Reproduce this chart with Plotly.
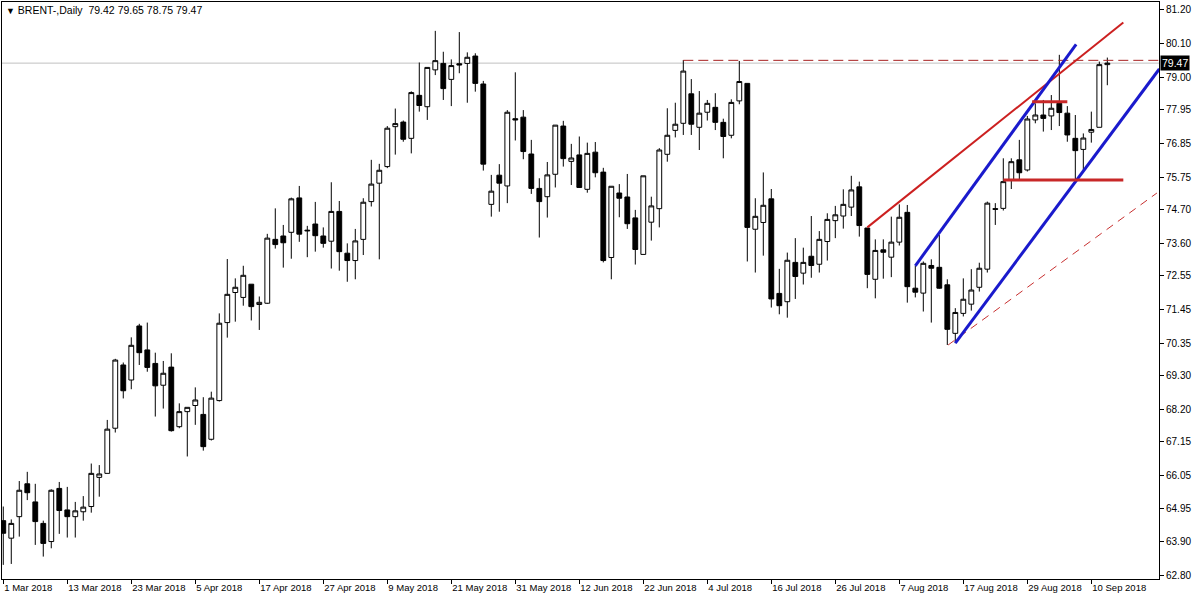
import plotly.graph_objects as go

# ---------------- data ----------------
bar_index = list(range(139))

opens = [64.57, 64.00, 64.70, 65.77, 65.18, 64.48, 63.89, 65.62, 64.92, 64.70,
         64.86, 65.03, 65.98, 66.11, 67.58, 69.64, 69.15, 70.91, 70.13, 69.69,
         68.98, 69.57, 67.63, 68.12, 68.32, 68.03, 67.22, 68.48, 71.02, 72.00,
         71.84, 72.27, 71.61, 71.65, 73.73, 73.84, 73.96, 75.08, 74.03, 74.23,
         73.84, 73.67, 74.64, 73.28, 73.04, 73.73, 74.96, 75.56, 76.10, 77.40,
         77.55, 77.02, 78.42, 78.05, 79.25, 79.46, 78.94, 79.45, 79.46, 79.70,
         78.79, 74.87, 75.82, 75.47, 77.66, 77.71, 76.51, 75.39, 75.12, 75.85,
         77.42, 76.27, 76.48, 75.36, 76.57, 75.92, 73.14, 75.24, 75.11, 74.43,
         73.24, 74.29, 74.73, 76.50, 77.28, 77.51, 78.47, 77.38, 77.87, 78.03,
         77.54, 77.12, 78.24, 78.81, 74.06, 74.28, 75.05, 71.97, 71.70, 72.98,
         72.63, 73.18, 72.92, 73.66, 74.34, 74.49, 74.78, 75.44, 74.10, 72.43,
         73.39, 73.15, 73.64, 74.61, 72.14, 71.98, 72.88, 72.82, 72.25, 70.67,
         71.32, 71.62, 72.17, 72.76, 74.73, 74.74, 75.67, 76.32, 75.99, 77.62,
         77.78, 77.75, 78.16, 77.84, 77.02, 76.66, 77.22, 77.38, 79.42]

highs = [65.03, 64.61, 65.86, 66.16, 65.77, 64.57, 65.59, 65.83, 65.67, 65.18,
         65.37, 66.43, 66.38, 67.85, 69.84, 69.72, 70.54, 70.98, 71.02, 70.04,
         69.77, 70.02, 68.39, 68.26, 68.91, 68.59, 68.77, 71.32, 73.09, 72.46,
         72.87, 72.27, 71.87, 73.91, 74.74, 74.20, 75.09, 75.47, 74.17, 74.95,
         74.12, 75.59, 74.98, 73.60, 74.07, 75.07, 76.32, 76.19, 77.42, 77.99,
         77.60, 78.55, 79.49, 79.33, 80.52, 79.84, 79.59, 80.48, 79.82, 79.79,
         78.89, 75.83, 76.18, 77.94, 79.17, 77.94, 76.97, 75.72, 76.25, 77.45,
         77.59, 76.84, 77.08, 76.88, 76.90, 76.06, 75.46, 75.53, 75.86, 74.69,
         75.80, 75.12, 76.70, 78.00, 78.18, 79.57, 78.95, 78.56, 78.27, 78.49,
         77.66, 78.29, 79.54, 78.81, 75.07, 75.91, 75.37, 72.77, 73.30, 73.77,
         73.46, 74.49, 74.00, 74.58, 74.82, 75.36, 75.80, 75.61, 74.10, 73.73,
         73.73, 74.47, 74.87, 74.85, 72.87, 73.01, 73.08, 73.87, 72.43, 71.49,
         72.46, 72.76, 72.97, 74.96, 74.91, 76.37, 76.37, 76.97, 77.75, 78.16,
         78.27, 78.43, 79.74, 78.07, 77.78, 77.18, 77.89, 79.52, 79.65]

lows = [63.13, 63.16, 64.05, 65.24, 63.78, 63.40, 63.67, 64.14, 64.02, 64.02,
        64.57, 64.83, 65.35, 66.11, 67.44, 68.55, 68.85, 69.64, 69.42, 67.96,
        68.22, 67.47, 67.58, 66.66, 67.69, 66.85, 67.18, 68.45, 70.53, 71.05,
        71.57, 71.09, 70.78, 71.63, 73.43, 72.81, 73.10, 73.65, 73.15, 73.33,
        73.46, 72.78, 72.71, 72.35, 72.43, 73.22, 74.80, 73.08, 76.05, 76.49,
        76.91, 76.53, 77.89, 77.62, 79.08, 78.27, 78.07, 79.14, 78.18, 78.54,
        75.97, 74.47, 74.63, 74.91, 76.95, 76.34, 75.21, 73.79, 74.44, 75.42,
        76.10, 75.50, 75.42, 75.25, 75.75, 72.98, 72.43, 74.45, 74.07, 72.91,
        73.24, 73.69, 74.12, 76.26, 77.05, 77.13, 77.13, 76.64, 77.60, 77.29,
        76.37, 77.02, 78.13, 73.01, 72.65, 73.20, 71.51, 71.29, 71.18, 71.79,
        72.26, 72.48, 72.65, 73.04, 73.77, 74.08, 74.49, 73.82, 72.14, 71.81,
        72.45, 72.50, 73.53, 71.67, 71.84, 71.38, 71.02, 72.12, 70.29, 70.35,
        71.22, 71.41, 72.03, 72.65, 74.20, 74.67, 75.37, 75.67, 75.94, 77.51,
        77.24, 77.29, 77.42, 76.91, 75.66, 75.99, 76.88, 77.38, 78.75]

closes = [64.16, 64.48, 65.56, 65.48, 64.54, 63.83, 65.56, 64.90, 64.70, 64.89,
          65.01, 66.11, 66.09, 67.55, 69.80, 68.80, 70.28, 70.04, 69.56, 68.96,
          69.37, 67.50, 68.12, 68.26, 68.50, 66.98, 68.56, 71.00, 71.94, 72.17,
          72.56, 71.54, 71.68, 73.77, 73.56, 73.62, 75.05, 73.90, 74.01, 73.85,
          73.60, 74.64, 73.33, 73.04, 73.68, 74.94, 75.53, 75.98, 77.35, 77.50,
          76.99, 78.51, 78.09, 79.33, 79.55, 78.64, 79.39, 79.41, 79.66, 78.81,
          76.18, 75.30, 75.56, 77.87, 77.62, 76.59, 75.39, 74.96, 75.83, 77.45,
          76.36, 76.38, 75.42, 76.53, 75.90, 73.04, 75.46, 75.07, 74.24, 73.40,
          75.80, 74.82, 76.64, 77.12, 77.48, 79.21, 77.48, 77.84, 78.16, 77.54,
          77.08, 78.19, 78.87, 74.12, 74.48, 74.84, 71.79, 71.57, 73.05, 72.52,
          72.98, 72.88, 73.73, 74.38, 74.53, 74.87, 75.34, 74.18, 72.59, 73.37,
          73.31, 73.64, 74.45, 72.19, 72.01, 72.95, 72.79, 72.14, 70.80, 71.35,
          71.78, 72.08, 72.79, 74.91, 74.71, 75.61, 76.26, 75.90, 77.65, 77.78,
          77.67, 78.00, 77.86, 77.13, 76.62, 77.03, 77.31, 79.42, 79.47]

date_labels = ["1 Mar 2018", "13 Mar 2018", "23 Mar 2018", "5 Apr 2018", "17 Apr 2018",
               "27 Apr 2018", "9 May 2018", "21 May 2018", "31 May 2018", "12 Jun 2018",
               "22 Jun 2018", "4 Jul 2018", "16 Jul 2018", "26 Jul 2018", "7 Aug 2018",
               "17 Aug 2018", "29 Aug 2018", "10 Sep 2018"]
date_label_bars = [0, 8, 16, 24, 32, 40, 48, 56, 64, 72, 80, 88, 96, 104, 112, 120, 128, 136]

price_ticks = [81.20, 80.10, 79.00, 77.95, 76.85, 75.75, 74.70, 73.60, 72.55,
               71.45, 70.35, 69.30, 68.20, 67.15, 66.05, 64.95, 63.90, 62.80]
price_tick_text = ["81.20", "80.10", "79.00", "77.95", "76.85", "75.75", "74.70", "73.60", "72.55",
                   "71.45", "70.35", "69.30", "68.20", "67.15", "66.05", "64.95", "63.90", "62.80"]

symbol = "BRENT-,Daily"
last_ohlc = [79.42, 79.65, 78.75, 79.47]
bid_price = 79.47

# drawing objects (bar index, price)
red_trend_x, red_trend_y = [108, 140], [74.12, 80.79]
blue_upper_x, blue_upper_y = [114, 134.1], [72.87, 80.08]
blue_lower_x, blue_lower_y = [119, 144.5], [70.35, 79.28]
red_dash_low_x, red_dash_low_y = [118.1, 144.2], [70.29, 75.24]
resist_x, resist_y = [85, 144.5], [79.56, 79.56]
red_h_up_x, red_h_up_y = [128.6, 133.0], [78.21, 78.21]
red_h_low_x, red_h_low_y = [125, 140], [75.66, 75.66]

# ---------------- figure ----------------
fig = go.Figure()
fig.add_trace(go.Candlestick(
    x=bar_index, open=opens, high=highs, low=lows, close=closes,
    increasing=dict(line=dict(color="black", width=1), fillcolor="white"),
    decreasing=dict(line=dict(color="black", width=1), fillcolor="black"),
    whiskerwidth=0, hoverinfo="skip", showlegend=False,
))

font_family = "Liberation Sans, Arial, sans-serif"

shapes = []
# bid line
shapes.append(dict(type="line", xref="paper", yref="y", x0=0, x1=1, y0=bid_price, y1=bid_price,
                   line=dict(color="#C0C0C0", width=1), layer="below"))


def seg(xs, ys, color, width, dash="solid"):
    return dict(type="line", xref="x", yref="y", x0=xs[0], x1=xs[1], y0=ys[0], y1=ys[1],
                line=dict(color=color, width=width, dash=dash), layer="above")


shapes.append(seg(resist_x, resist_y, "#A82020", 1, "10px,5px"))
shapes.append(seg(red_dash_low_x, red_dash_low_y, "#C83030", 1, "8px,6px"))
shapes.append(seg(red_trend_x, red_trend_y, "#CC2020", 2))
shapes.append(seg(blue_upper_x, blue_upper_y, "#1A1ACC", 3))
shapes.append(seg(blue_lower_x, blue_lower_y, "#1A1ACC", 3))
shapes.append(seg(red_h_up_x, red_h_up_y, "#C82828", 3))
shapes.append(seg(red_h_low_x, red_h_low_y, "#C82828", 3))

annotations = [
    dict(text="<span style='font-size:9px'>\u25BC</span>\u00a0" + symbol + "\u00a0\u00a0" +
              " ".join(f"{v:.2f}" for v in last_ohlc),
         xref="paper", yref="paper", x=0, y=1, xanchor="left", yanchor="top",
         xshift=2, yshift=0, showarrow=False, font=dict(family=font_family, size=10.5, color="black")),
    dict(text=f"{bid_price:.2f}", xref="paper", yref="y", x=1, y=bid_price,
         xanchor="left", yanchor="middle", xshift=1, showarrow=False,
         bgcolor="black", borderpad=1, font=dict(family=font_family, size=10.5, color="white")),
]

fig.update_layout(
    width=1200, height=600,
    margin=dict(l=2, r=41, t=2, b=21),
    paper_bgcolor="white", plot_bgcolor="white",
    showlegend=False, hovermode=False,
    boxgap=0.4, boxgroupgap=0,
    shapes=shapes, annotations=annotations,
    xaxis=dict(
        range=[-0.16, 144.46], rangeslider=dict(visible=False),
        tickmode="array", tickvals=date_label_bars, ticktext=date_labels,
        ticks="outside", ticklen=4, tickcolor="black", ticklabelposition="outside right",
        tickangle=0,
        tickfont=dict(family=font_family, size=9.5, color="black"),
        showgrid=False, zeroline=False,
        showline=True, linecolor="black", linewidth=1, mirror=True,
        fixedrange=True,
    ),
    yaxis=dict(
        side="right", range=[62.67, 81.46],
        tickmode="array", tickvals=price_ticks, ticktext=price_tick_text,
        ticks="outside", ticklen=4, tickcolor="black",
        tickfont=dict(family=font_family, size=10, color="black"),
        showgrid=False, zeroline=False,
        showline=True, linecolor="black", linewidth=1, mirror=True,
        fixedrange=True,
    ),
)

fig.write_html("out.html", include_plotlyjs=True, full_html=True,
               config=dict(displayModeBar=False, staticPlot=True),
               post_script="document.body.style.margin='0';document.body.style.overflow='hidden';")
